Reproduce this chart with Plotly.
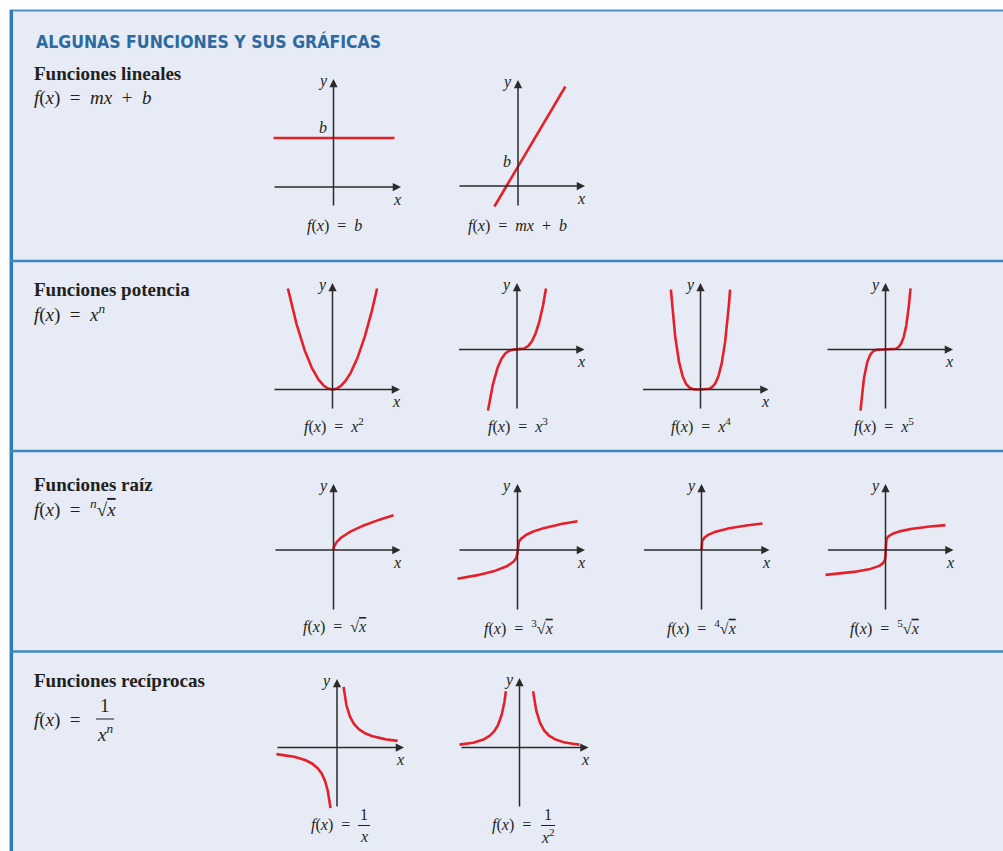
import numpy as np
import plotly.graph_objects as go

W, H = 1003, 851

# ------------------------------------------------------------------ data
title_text = "ALGUNAS FUNCIONES Y SUS GRÁFICAS"
section_names = ["Funciones lineales", "Funciones potencia",
                 "Funciones raíz", "Funciones recíprocas"]

# linear functions
const_b = 2.45                 # f(x) = b
const_x = [-3.0, 3.05]
lin_m, lin_b = 1.69, 0.97      # f(x) = m x + b
lin_x = [-1.18, 2.37]

# power functions f(x) = x^n
power_n = [2, 3, 4, 5]
power_xmax = [2.23, 1.45, 1.48, 1.25]

# root functions f(x) = x^(1/n)
root_n = [2, 3, 4, 5]
root_xmin = [0.0, -3.0, 0.0, -3.0]
root_xmax = [3.0, 3.0, 3.05, 3.0]

# reciprocal functions f(x) = 1/x^n
recip_n = [1, 2]
recip_xin = [0.33, 0.68]
recip_xout = [3.03, 3.0]

# ------------------------------------------------------------------ style / layout
BG = "#e6ebf5"
RED = "#e5202a"
AX = "#2b2b2b"
TXT = "#231f20"
SERIF = "Liberation Serif, Times New Roman, serif"
SP = "\u2002"   # en space

# graph frames in pixels: origin (ox, oy), axis extents, scales
frames = [
    dict(ox=333.5, oy=187, xl=273, xr=401, yt=79, yb=207, sx=20, sy=20),     # b
    dict(ox=518, oy=186, xl=458, xr=585, yt=80, yb=207, sx=20, sy=20),       # mx+b
    dict(ox=332.5, oy=389.5, xl=273, xr=400, yt=283, yb=410, sx=20, sy=20.3),
    dict(ox=517, oy=349.5, xl=457.5, xr=584.5, yt=283, yb=410, sx=20, sy=20),
    dict(ox=700.5, oy=389.5, xl=641.5, xr=768.5, yt=283, yb=410, sx=20, sy=20.8),
    dict(ox=885.5, oy=349.5, xl=826, xr=953, yt=283, yb=410, sx=20, sy=20),
    dict(ox=333.5, oy=550, xl=274, xr=400.5, yt=484, yb=611, sx=20, sy=20),
    dict(ox=517.5, oy=550, xl=458, xr=585, yt=484, yb=611, sx=20, sy=20),
    dict(ox=701.5, oy=550, xl=642.5, xr=769.5, yt=484, yb=611, sx=20, sy=20),
    dict(ox=885.5, oy=550, xl=826.5, xr=953.5, yt=484, yb=611, sx=20, sy=20),
    dict(ox=337, oy=747.5, xl=276, xr=404, yt=679, yb=808, sx=20, sy=20),
    dict(ox=519.5, oy=747.5, xl=460, xr=588.5, yt=678, yb=808, sx=20, sy=26),
]

fig = go.Figure()
PAD = 10


def px(x):
    return x / W


def py(y):
    return 1 - y / H


def curve(i, xs, ys):
    n = i + 1
    fig.add_trace(go.Scatter(x=xs, y=ys, mode="lines",
                             line=dict(color=RED, width=2.6),
                             xaxis=f"x{n}", yaxis=f"y{n}",
                             hoverinfo="skip", showlegend=False))


annotations = []
layout_axes = {}
for i, f in enumerate(frames):
    n = i + 1
    x0 = (f["xl"] - PAD - f["ox"]) / f["sx"]
    x1 = (f["xr"] + PAD - f["ox"]) / f["sx"]
    y0 = (f["oy"] - f["yb"] - PAD) / f["sy"]
    y1 = (f["oy"] - f["yt"] + PAD) / f["sy"]
    kx = "xaxis" if n == 1 else f"xaxis{n}"
    ky = "yaxis" if n == 1 else f"yaxis{n}"
    layout_axes[kx] = dict(domain=[px(f["xl"] - PAD), px(f["xr"] + PAD)],
                           range=[x0, x1], visible=False, fixedrange=True,
                           anchor=f"y{n}")
    layout_axes[ky] = dict(domain=[py(f["yb"] + PAD), py(f["yt"] - PAD)],
                           range=[y0, y1], visible=False, fixedrange=True,
                           anchor=f"x{n}")
    ax_l = (f["xl"] - f["ox"]) / f["sx"]
    ax_r = (f["xr"] - f["ox"]) / f["sx"]
    ay_b = (f["oy"] - f["yb"]) / f["sy"]
    ay_t = (f["oy"] - f["yt"]) / f["sy"]
    common = dict(xref=f"x{n}", yref=f"y{n}", axref=f"x{n}", ayref=f"y{n}",
                  showarrow=True, arrowhead=2, arrowsize=1.1, arrowwidth=1.5,
                  arrowcolor=AX, standoff=0, text="")
    annotations.append(dict(x=ax_r, y=0, ax=ax_l, ay=0, **common))
    annotations.append(dict(x=0, y=ay_t, ax=0, ay=ay_b, **common))
    # axis letters
    annotations.append(dict(xref="paper", yref="paper", x=px(f["ox"] - 11),
                            y=py(f["yt"] + 2), text="<i>y</i>", showarrow=False,
                            font=dict(family=SERIF, size=16, color=TXT),
                            xanchor="center", yanchor="middle"))
    annotations.append(dict(xref="paper", yref="paper", x=px(f["xr"] - 4),
                            y=py(f["oy"] + 12), text="<i>x</i>", showarrow=False,
                            font=dict(family=SERIF, size=16, color=TXT),
                            xanchor="center", yanchor="middle"))

# --- curves
curve(0, const_x, [const_b, const_b])
curve(1, lin_x, [lin_m * x + lin_b for x in lin_x])

for k, (p, xm) in enumerate(zip(power_n, power_xmax)):
    xs = np.linspace(-xm, xm, 301)
    curve(2 + k, xs, xs ** p)

for k, (r, a, b) in enumerate(zip(root_n, root_xmin, root_xmax)):
    t = np.linspace(0, 1, 300) ** 3
    pos = b * t
    if a < 0:
        xs = np.concatenate([-(-a * t)[::-1], pos[1:]])
    else:
        xs = pos
    ys = np.sign(xs) * np.abs(xs) ** (1.0 / r)
    curve(6 + k, xs, ys)

for k, (p, xi, xo) in enumerate(zip(recip_n, recip_xin, recip_xout)):
    right = np.linspace(xi, xo, 200)
    left = -right[::-1]
    xs = np.concatenate([left, [np.nan], right])
    with np.errstate(invalid="ignore"):
        ys = 1.0 / xs ** p
    curve(10 + k, xs, ys)

# ------------------------------------------------------------------ text


def txt(x, y, s, size=15, xanchor="center", bold=False, family=SERIF, color=TXT):
    annotations.append(dict(xref="paper", yref="paper", x=px(x), y=py(y),
                            text=s, showarrow=False, xanchor=xanchor,
                            yanchor="middle",
                            font=dict(family=family, size=size, color=color,
                                      weight="bold" if bold else "normal")))


fx = "<i>f</i>(<i>x</i>)" + SP + "="
OV = "<span style='text-decoration:overline'><i>x</i></span>"

txt(34, 42, title_text, size=17.5, xanchor="left", bold=True,
    family="DejaVu Sans Condensed, Liberation Sans Narrow, sans-serif",
    color="#2c6aa1")

rows_y = [74, 289, 484, 680]
for name, yy in zip(section_names, rows_y):
    txt(32, yy, name, size=19, xanchor="left", bold=True)

txt(32, 98, fx + SP + "<i>mx</i>" + SP + "+" + SP + "<i>b</i>", size=19, xanchor="left")
txt(32, 313, fx + SP + "<i>x<sup>n</sup></i>", size=19, xanchor="left")
txt(32, 508, fx + SP + "<sup><i>n</i></sup>√" + OV, size=19, xanchor="left")
txt(32, 720, fx, size=19, xanchor="left")
txt(105, 705, "1", size=19)
txt(105, 733, "<i>x<sup>n</sup></i>", size=19)

# captions
CS = 16
txt(334, 226, fx + SP + "<i>b</i>", size=CS)
txt(517, 226, fx + SP + "<i>mx</i>" + SP + "+" + SP + "<i>b</i>", size=CS)
cap_x = [334, 518, 701, 884]
for cx, p in zip(cap_x, power_n):
    txt(cx, 425, fx + SP + f"<i>x</i><sup>{p}</sup>", size=CS)
for cx, r in zip(cap_x, root_n):
    idx = "" if r == 2 else f"<sup>{r}</sup>"
    txt(cx, 627, fx + SP + idx + "√" + OV, size=CS)
txt(330, 825, fx, size=CS)
txt(364, 814, "1", size=CS)
txt(364, 836, "<i>x</i>", size=CS)
txt(512, 825, fx, size=CS)
txt(548, 814, "1", size=CS)
txt(548, 836, "<i>x</i><sup>2</sup>", size=CS)

# 'b' intercept labels
txt(323, 127, "<i>b</i>", size=16)
txt(507, 161, "<i>b</i>", size=16)

# ------------------------------------------------------------------ shapes
shapes = [
    dict(type="rect", xref="paper", yref="paper", x0=px(10), x1=1.0,
         y0=0, y1=py(10), fillcolor=BG, line=dict(width=0), layer="below"),
    dict(type="line", xref="paper", yref="paper", x0=px(10), x1=1.0,
         y0=py(10.5), y1=py(10.5), line=dict(color="#4f93c5", width=2)),
    dict(type="line", xref="paper", yref="paper", x0=px(11.3), x1=px(11.3),
         y0=0, y1=py(10), line=dict(color="#2f7db8", width=3.5)),
    # fraction bars
    dict(type="line", xref="paper", yref="paper", x0=px(96), x1=px(114),
         y0=py(719), y1=py(719), line=dict(color=TXT, width=1)),
    dict(type="line", xref="paper", yref="paper", x0=px(358), x1=px(370),
         y0=py(825.5), y1=py(825.5), line=dict(color=TXT, width=1)),
    dict(type="line", xref="paper", yref="paper", x0=px(541), x1=px(555),
         y0=py(825.5), y1=py(825.5), line=dict(color=TXT, width=1)),
]
for sy_ in [261, 451, 651.5]:
    shapes.append(dict(type="line", xref="paper", yref="paper", x0=px(10),
                       x1=1.0, y0=py(sy_), y1=py(sy_),
                       line=dict(color="#3e88bd", width=2.5)))

fig.update_layout(width=W, height=H, margin=dict(l=0, r=0, t=0, b=0),
                  paper_bgcolor="white", plot_bgcolor="rgba(0,0,0,0)",
                  showlegend=False, annotations=annotations, shapes=shapes,
                  **layout_axes)

fig.write_html("out.html", config={"displayModeBar": False},
               post_script="document.body.style.margin='0';"
                           "document.body.style.padding='0';")
